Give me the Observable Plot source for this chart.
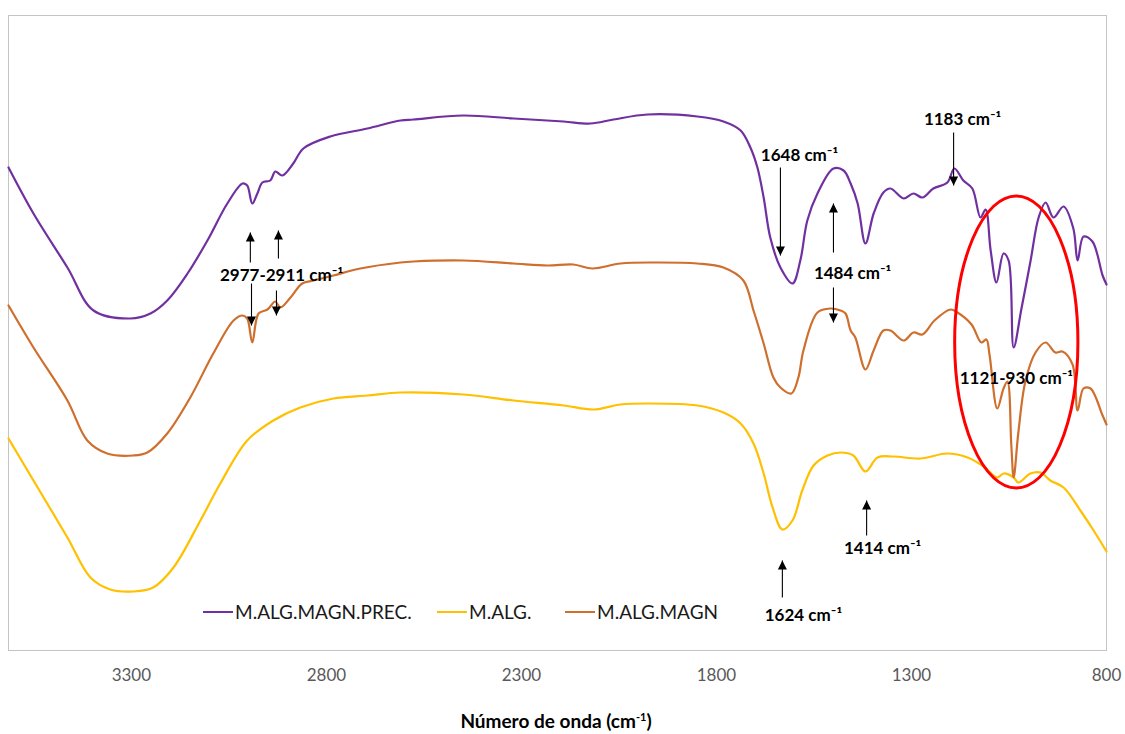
<!DOCTYPE html>
<html><head><meta charset="utf-8">
<script src="https://cdn.jsdelivr.net/npm/d3@7"></script>
<script src="https://cdn.jsdelivr.net/npm/@observablehq/plot@0.6"></script>
<style>
body{margin:0;background:#fff;}
#wrap{position:relative;width:1125px;height:734px;font-family:Lato,"Open Sans",sans-serif;overflow:hidden}
#wrap svg{position:absolute;left:0;top:0}
.leg{position:absolute;top:600px;display:flex;align-items:center;font-size:19px;line-height:24px;color:#1a1a1a;white-space:nowrap}
.leg .sw{display:inline-block;width:30px;height:2.5px;margin-right:2px}
#xtitle{position:absolute;left:0;width:1112px;top:708px;text-align:center;font-weight:bold;font-size:19px;line-height:26px;color:#000}
#xtitle sup{font-size:11px;vertical-align:7px;line-height:0}
</style></head><body><div id="wrap"></div>
<script>
// ---- data (wavenumber cm-1, transmittance in arbitrary units) ----
const seriesNames = ["M.ALG.MAGN.PREC.", "M.ALG.", "M.ALG.MAGN"];
const seriesColors = ["#7030A0", "#FFC000", "#CF6F2E"];
const xTicks = [3300, 2800, 2300, 1800, 1300, 800];

const precWn = [3615,3551,3464,3397,3303,3251,3208,3156,3105,3054,3015,3003,2990,2977,2964,2944,2931,2913,2885,2859,2790,2695,2610,2577,2449,2320,2192,2123,2064,1977,1849,1782,1738,1713,1695,1679,1662,1636,1605,1585,1567,1541,1500,1474,1456,1438,1418,1397,1372,1354,1320,1295,1272,1244,1208,1190,1167,1144,1123,1110,1097,1082,1064,1051,1038,1018,995,974,956,936,910,885,874,859,836,810,800];
const precT  = [483,437,383,340,332,337,350,377,410,447,467,465,447,457,468,470,479,475,487,502,514,522,530,531,535,532,529,527,531,536,534,529,520,503,483,453,413,383,367,390,430,457,482,480,467,447,407,437,458,462,452,457,453,462,468,482,470,462,433,441,400,368,397,390,303,342,389,433,448,433,444,422,390,414,409,375,366];

const algWn = [3615,3551,3464,3405,3354,3295,3244,3192,3123,3072,3003,2936,2867,2782,2695,2610,2449,2320,2192,2115,2046,1977,1849,1782,1738,1705,1679,1656,1631,1605,1580,1551,1515,1482,1449,1418,1387,1346,1277,1208,1156,1115,1080,1064,1038,1026,995,969,944,910,867,833,800];
const algT  = [212,170,113,73,61,59,63,83,130,167,210,230,243,252,255,258,256,250,245,241,246,247,245,238,227,207,177,143,121,130,160,185,195,198,195,179,193,194,192,197,193,184,173,177,173,168,177,178,170,163,140,120,99];

const magnWn = [3615,3551,3464,3413,3362,3295,3259,3208,3149,3090,3038,3015,3003,2990,2974,2951,2931,2918,2892,2862,2833,2782,2713,2610,2577,2449,2320,2233,2167,2118,2046,1962,1849,1782,1731,1705,1679,1654,1636,1608,1590,1577,1541,1508,1482,1469,1456,1444,1418,1397,1372,1354,1320,1295,1272,1241,1200,1182,1146,1121,1108,1100,1080,1064,1054,1044,1038,1026,1008,982,956,931,913,887,874,859,841,810,800];
const magnT  = [345,303,250,210,197,195,198,217,253,297,330,335,332,308,337,341,349,343,353,367,370,375,382,388,389,390,387,385,386,382,387,388,387,383,370,340,307,273,263,257,273,300,338,342,340,337,320,313,281,300,320,320,310,318,316,330,341,338,326,308,311,296,242,262,269,205,173,218,269,298,308,298,299,286,240,262,262,235,226];

// annotations
const labelText = ["2977-2911 cm\u207B\u00B9", "1648 cm\u207B\u00B9", "1484 cm\u207B\u00B9", "1183 cm\u207B\u00B9", "1121-930 cm\u207B\u00B9", "1414 cm\u207B\u00B9", "1624 cm\u207B\u00B9"];
const labelWn   = [2915, 1587, 1451, 1169, 1031, 1374, 1577];
const labelT    = [375, 495, 377, 531, 272, 102, 35];

const arrowWn   = [2995, 2923, 2992, 2928, 1636, 1500, 1500, 1192, 1415, 1631];
const arrowFrom = [388, 392, 367, 360, 483, 398, 363, 518, 115, 53];
const arrowTo   = [418, 420, 325, 335, 395, 447, 328, 465, 150, 90];

const ellipseCenter = [1030, 308];
const ellipseRadius = [158, 146];

// ---- build tables ----
const spectra = [
  {name: seriesNames[0], wn: precWn, t: precT},
  {name: seriesNames[1], wn: algWn, t: algT},
  {name: seriesNames[2], wn: magnWn, t: magnT}
];
const rows = spectra.flatMap(s => s.wn.map((w, i) => ({series: s.name, wn: w, t: s.t[i]})));
const labels = labelText.map((text, i) => ({text, wn: labelWn[i], t: labelT[i]}));
const arrows = arrowWn.map((wn, i) => ({wn, from: arrowFrom[i], to: arrowTo[i]}));

const headUp = {draw(ctx) { ctx.moveTo(0, 0); ctx.lineTo(4.5, 9); ctx.lineTo(-4.5, 9); ctx.closePath(); }};
const headDown = {draw(ctx) { ctx.moveTo(0, 0); ctx.lineTo(4.5, -9); ctx.lineTo(-4.5, -9); ctx.closePath(); }};

const plot = Plot.plot({
  width: 1125, height: 734,
  marginLeft: 8, marginRight: 19, marginTop: 15, marginBottom: 84,
  style: {fontFamily: "Lato, 'Open Sans', sans-serif", fontSize: "17px", color: "#595959", background: "transparent"},
  x: {domain: [3615, 800], ticks: xTicks, tickFormat: d => String(d), tickSize: 0, tickPadding: 18, label: null},
  y: {domain: [0, 635], axis: null},
  color: {domain: seriesNames, range: seriesColors},
  marks: [
    Plot.frame({stroke: "#c4c4c4", strokeWidth: 1}),
    Plot.line(rows, {x: "wn", y: "t", z: "series", stroke: "series", strokeWidth: 2.2, curve: "catmull-rom"}),
    Plot.link(arrows, {x1: "wn", x2: "wn", y1: "from", y2: "to", stroke: "#000", strokeWidth: 1.1}),
    Plot.dot(arrows.filter(a => a.to > a.from), {x: "wn", y: "to", symbol: headUp, r: 4, fill: "#000", stroke: "none"}),
    Plot.dot(arrows.filter(a => a.to < a.from), {x: "wn", y: "to", symbol: headDown, r: 4, fill: "#000", stroke: "none"}),
    Plot.text(labels, {x: "wn", y: "t", text: "text", fill: "#000", fontWeight: "bold", fontSize: 17, lineAnchor: "middle", textAnchor: "middle"})
  ]
});

// red ellipse highlight drawn with the plot's own scales
const sx = plot.scale("x"), sy = plot.scale("y");
const cx = sx.apply(ellipseCenter[0]), cy = sy.apply(ellipseCenter[1]);
const rx = Math.abs(sx.apply(ellipseCenter[0] + ellipseRadius[0]) - cx);
const ry = Math.abs(sy.apply(ellipseCenter[1] + ellipseRadius[1]) - cy);
d3.select(plot).append("ellipse").attr("cx", cx).attr("cy", cy).attr("rx", rx).attr("ry", ry)
  .attr("fill", "none").attr("stroke", "#FF0000").attr("stroke-width", 3);

const wrap = document.getElementById("wrap");
wrap.appendChild(plot);

// legend
const legLeft = [203, 437, 565];
seriesNames.forEach((n, i) => {
  const d = document.createElement("div");
  d.className = "leg";
  d.style.left = legLeft[i] + "px";
  d.innerHTML = `<span class="sw" style="background:${seriesColors[i]}"></span><span>${n}</span>`;
  wrap.appendChild(d);
});
const t = document.createElement("div");
t.id = "xtitle";
t.innerHTML = "Número de onda (cm<sup>-1</sup>)";
wrap.appendChild(t);
</script>
</body></html>
